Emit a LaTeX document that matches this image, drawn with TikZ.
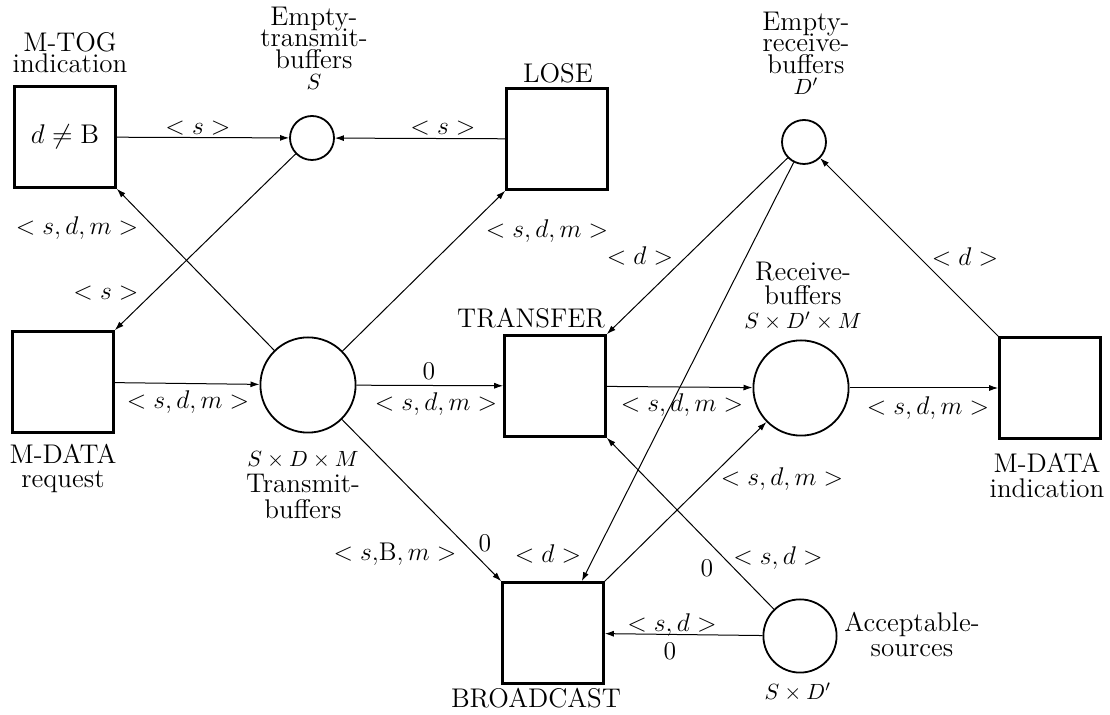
\RequirePackage{fix-cm}
\documentclass[tikz,border=0pt]{standalone}
\usetikzlibrary{arrows.meta,calc}
\newcommand\lsp[1]{\fontsize{13.5}{#1}\selectfont\lineskiplimit=-30pt\relax}
\newcommand\setf{\fontsize{11}{11}\selectfont}
\begin{document}
\begin{tikzpicture}[x=0.5pt,y=-0.5pt,
  every node/.style={font=\lsp{10.75}},
  tbox/.style={draw, line width=1.3pt, minimum size=50.5pt, inner sep=0pt},
  pl/.style={draw, circle, line width=0.9pt, inner sep=0pt},
  splace/.style={pl, minimum size=22pt},
  bplace/.style={pl, minimum size=47.6pt},
  mplace/.style={pl, minimum size=36.6pt},
  conn/.style={line width=0.5pt, -{Latex[length=4.5pt,width=3pt]}},
  lab/.style={inner sep=0pt, align=center},
  elab/.style={inner sep=0pt, anchor=base, font=\fontsize{12.8}{12.8}\selectfont}]
\useasboundingbox (0,0) rectangle (1110,715);

% transitions and places
\node[tbox] (mtog) at (65,137) {$d\neq\mathrm{B}$};
\node[splace] (etb) at (312,138) {};
\node[tbox] (lose) at (557,139) {};
\node[splace] (erb) at (804,142) {};
\node[tbox] (mreq) at (63,382) {};
\node[bplace] (tb) at (308,385) {};
\node[tbox] (transfer) at (555,386) {};
\node[bplace] (rb) at (801,388) {};
\node[tbox] (mind) at (1050,388) {};
\node[tbox] (bc) at (553,633) {};
\node[mplace] (as) at (800,636) {};

% names
\node[lab, anchor=south, font=\lsp{10.5}] (tmtog) at (70,73) {M-TOG\\indication};
\node[lab, anchor=south, font=\lsp{10.75}] (tetb) at (314,90) {Empty-\\transmit-\\buffers\\{\setf$S$}};
\node[lab, anchor=south] (tlose) at (558,83) {LOSE};
\node[lab, anchor=south, font=\lsp{10.75}] (terb) at (806,95) {Empty-\\receive-\\buffers\\{\setf$D'$}};
\node[lab, anchor=south] (ttransfer) at (531,328) {TRANSFER};
\node[lab, anchor=south, font=\lsp{12}] (trb) at (803,331) {Receive-\\buffers\\{\setf$S\times D'\times M$}};
\node[lab, anchor=south, font=\lsp{12}] (tmreq) at (63,493) {M-DATA\\request};
\node[lab, anchor=south, font=\lsp{13}] (ttb) at (303,519) {{\setf$S\times D\times M$}\\Transmit-\\buffers};
\node[lab, anchor=south, font=\lsp{12.5}] (tmind) at (1047,498) {M-DATA\\indication};
\node[lab, anchor=south] (tbc) at (536,708) {BROADCAST};
\node[lab, anchor=south, font=\lsp{12.5}] (tas) at (912,657) {Acceptable-\\sources};
\node[lab, anchor=south, font=\setf] (tasset) at (798,702) {$S\times D'$};

% arc inscriptions
\node[elab] (l1) at (198,135) {$<s>$};
\node[elab] (l2) at (443,135) {$<s>$};
\node[elab] (l3) at (77,235) {$<s,d,m>$};
\node[elab] (l4) at (106,300) {$<s>$};
\node[elab] (l5) at (188,409) {$<s,d,m>$};
\node[elab] (l6) at (547,238) {$<s,d,m>$};
\node[elab] (l7a) at (429,380) {$0$};
\node[elab] (l7b) at (436,411) {$<s,d,m>$};
\node[elab] (l8) at (640,265) {$<d>$};
\node[elab] (l9) at (548,563) {$<d>$};
\node[elab] (l10) at (682,412) {$<s,d,m>$};
\node[elab] (l11) at (782,486) {$<s,d,m>$};
\node[elab] (l12) at (928,415) {$<s,d,m>$};
\node[elab] (l13) at (965,266) {$<d>$};
\node[elab] (l14a) at (778,565) {$<s,d>$};
\node[elab] (l14b) at (707,577) {$0$};
\node[elab] (l15a) at (672,632) {$<s,d>$};
\node[elab] (l15b) at (670,660) {$0$};
\node[elab] (l16a) at (395,561) {$<s{,}\mathrm{B},m>$};
\node[elab] (l16b) at (485,552) {$0$};

% arcs
\draw[conn] (mtog) -- (etb);
\draw[conn] (lose) -- (etb);
\draw[conn] (tb) -- (mtog.south east);
\draw[conn] (etb) -- (mreq.north east);
\draw[conn] (mreq) -- (tb);
\draw[conn] (tb) -- (lose.south west);
\draw[conn] (tb) -- (transfer);
\draw[conn] (erb) -- (transfer.north east);
\draw[conn] (erb) -- ($(bc.north east)+(-23,0)$);
\draw[conn] (transfer) -- (rb);
\draw[conn] (bc.north east) -- (rb);
\draw[conn] (rb) -- (mind);
\draw[conn] (mind.north west) -- (erb);
\draw[conn] (as) -- (transfer.south east);
\draw[conn] (as) -- (bc);
\draw[conn] (tb) -- (bc.north west);
\end{tikzpicture}
\end{document}
